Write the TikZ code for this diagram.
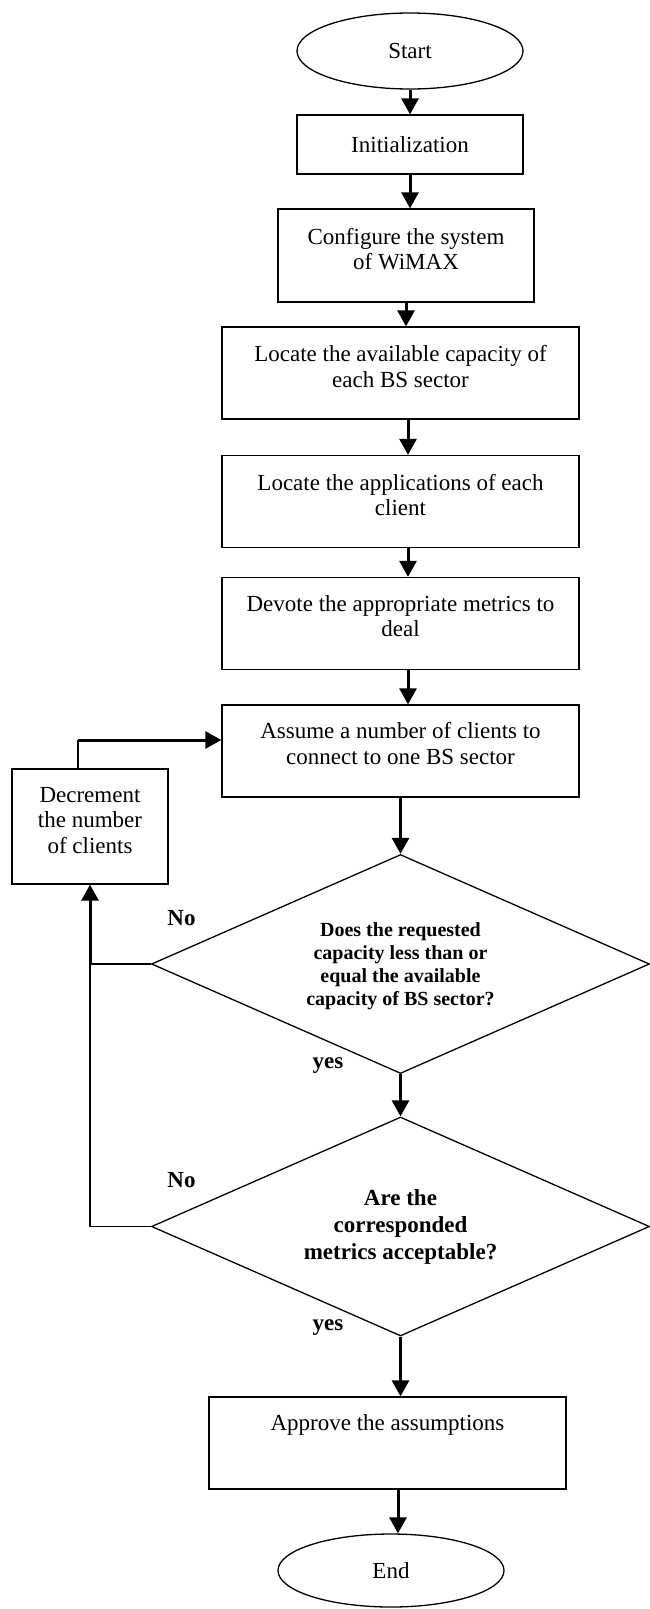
\documentclass[tikz,border=0pt]{standalone}
\usepackage{fontspec}
\setmainfont{Liberation Serif}
\usetikzlibrary{shapes.geometric,arrows.meta}
\tikzstyle{arrow} = [line width=3pt,-{Triangle[width=17pt,length=16pt]}]
\tikzstyle{thinline} = [line width=1.3pt]
\tikzstyle{block} = [rectangle,draw,line width=1.3pt,minimum width=357pt,minimum height=92pt,align=center,text depth=13pt]
\tikzstyle{terminal} = [ellipse,draw,line width=1.3pt,minimum width=226pt,minimum height=76pt]
\tikzstyle{decision} = [diamond,draw,line width=1.3pt,aspect=2.27,minimum width=498pt,minimum height=219pt,inner sep=0pt,align=center,font=\bfseries\fontsize{23}{27}\selectfont]
\tikzstyle{answer} = [font=\bfseries\fontsize{23}{26}\selectfont]

\begin{document}
\begin{tikzpicture}[x=1pt,y=-1pt,font=\fontsize{23}{25.5}\selectfont]
	\useasboundingbox (0,0) rectangle (649,1609);
	\node[terminal] (start) at (410,51) {Start};
	\node[block,minimum width=226pt,minimum height=59pt,text depth=0pt] (init) at (410,144.5) {Initialization};
	\node[block,minimum width=256pt,minimum height=93pt] (config) at (406,255.5) {Configure the system\\of WiMAX};
	\node[block] (capacity) at (400.5,373) {Locate the available capacity of\\each BS sector};
	\node[block] (apps) at (400.5,501.5) {Locate the applications of each\\client};
	\node[block,text depth=15pt] (devote) at (400.5,623.5) {Devote the appropriate metrics to\\deal};
	\node[block,text depth=15pt] (assume) at (400.5,751) {Assume a number of clients to\\connect to one BS sector};
	\node[block,minimum width=156pt,minimum height=115pt] (decrement) at (90,826.5) {Decrement\\the number\\of clients};
	\node[decision,text depth=-11pt,font=\bfseries\fontsize{20}{23.3}\selectfont] (capcheck) at (400.5,964) {Does the requested\\capacity less than or\\equal the available\\capacity of BS sector?};
	\node[decision] (metcheck) at (400.5,1226.5) {Are the\\corresponded\\metrics acceptable?};
	\node[block,text depth=40pt] (approve) at (387.5,1443) {Approve the assumptions};
	\node[terminal,minimum height=73pt] (end) at (391,1570.5) {End};
	\node[answer] (no1) at (181.5,918.5) {No};
	\node[answer] (yes1) at (328,1065.5) {yes};
	\node[answer] (no2) at (181.5,1180) {No};
	\node[answer] (yes2) at (328,1328) {yes};
	% main flow
	\draw[arrow] (start) -- (init);
	\draw[arrow] (init.south) -- (init.south |- config.north);
	\draw[arrow] (config.south) -- (config.south |- capacity.north);
	\draw[arrow] ([xshift=7.5pt]capacity.south) -- ([xshift=7.5pt]apps.north);
	\draw[arrow] ([xshift=7.5pt]apps.south) -- ([xshift=7.5pt]devote.north);
	\draw[arrow] ([xshift=7.5pt]devote.south) -- ([xshift=7.5pt]assume.north);
	\draw[arrow] (assume) -- (capcheck);
	\draw[arrow] (capcheck) -- (metcheck);
	\draw[arrow] (metcheck.south) -- (metcheck.south |- approve.north);
	\draw[arrow] ([xshift=10.5pt]approve.south) -- ([xshift=10.5pt]approve.south |- end.north);
	% loop back
	\coordinate (nojoin) at (decrement.south |- capcheck.west);
	\coordinate (backcorner) at (78,740);
	\draw[thinline] (capcheck.west) -- (nojoin);
	\draw[thinline] (metcheck.west) -| (nojoin);
	\draw[arrow] (nojoin) -- (decrement.south);
	\draw[thinline] (decrement.north -| backcorner) -- (backcorner);
	\draw[arrow] (backcorner) -- (backcorner -| assume.west);
\end{tikzpicture}
\end{document}
